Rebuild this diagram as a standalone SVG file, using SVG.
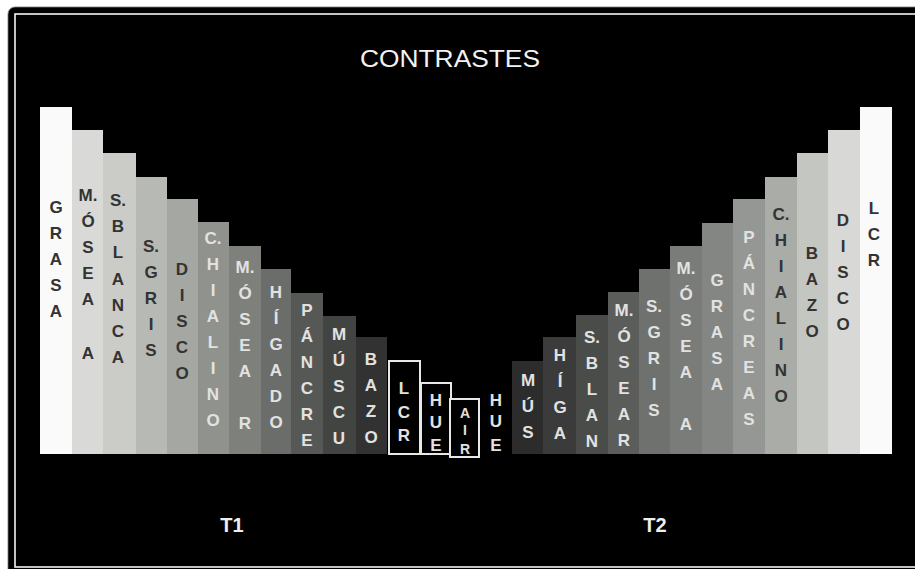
<svg xmlns="http://www.w3.org/2000/svg" width="915" height="569" viewBox="0 0 915 569">
<style>
.t{font-family:"Liberation Sans",Arial,sans-serif;font-size:17px;font-weight:bold;text-anchor:middle}
.d{fill:#333}
.l{fill:#e2e2e2}
.box{fill:#000;stroke:#e8e8e8;stroke-width:2}
.title{font-family:"Liberation Sans",Arial,sans-serif;font-size:24px;fill:#f2f2f2;text-anchor:middle}
.tl{font-family:"Liberation Sans",Arial,sans-serif;font-size:20px;font-weight:bold;fill:#eeeeee;text-anchor:middle}
</style>
<rect width="915" height="569" fill="#fff"/>
<rect x="8" y="7" width="930" height="580" rx="7" fill="#000" stroke="#777" stroke-width="0.8"/>
<rect x="15" y="14" width="920" height="553" fill="none" stroke="#f4f4f4" stroke-width="1.6"/>
<text class="title" x="450" y="67" textLength="180" lengthAdjust="spacingAndGlyphs">CONTRASTES</text>

<g id="L1"><rect x="40" y="107" width="32" height="347" fill="#fafafa"/>
<text class="t d"><tspan x="56" y="213">G</tspan><tspan x="56" y="239">R</tspan><tspan x="56" y="265">A</tspan><tspan x="56" y="291">S</tspan><tspan x="56" y="317">A</tspan></text></g>
<g id="L2"><rect x="72" y="130" width="31" height="324" fill="#d9dad7"/>
<text class="t d"><tspan x="88" y="201">M.</tspan><tspan x="88" y="227">Ó</tspan><tspan x="88" y="253">S</tspan><tspan x="88" y="279">E</tspan><tspan x="88" y="305">A</tspan><tspan x="88" y="359">A</tspan></text></g>
<g id="L3"><rect x="103" y="153" width="33" height="301" fill="#cbccc8"/>
<text class="t d"><tspan x="118" y="206">S.</tspan><tspan x="118" y="232">B</tspan><tspan x="118" y="258">L</tspan><tspan x="118" y="285">A</tspan><tspan x="118" y="311">N</tspan><tspan x="118" y="337">C</tspan><tspan x="118" y="363">A</tspan></text></g>
<g id="L4"><rect x="136" y="177" width="31" height="277" fill="#b7b9b4"/>
<text class="t d"><tspan x="151" y="252">S.</tspan><tspan x="151" y="278">G</tspan><tspan x="151" y="304">R</tspan><tspan x="151" y="330">I</tspan><tspan x="151" y="356">S</tspan></text></g>
<g id="L5"><rect x="167" y="199" width="31" height="255" fill="#a5a8a2"/>
<text class="t d"><tspan x="182" y="275">D</tspan><tspan x="182" y="301">I</tspan><tspan x="182" y="327">S</tspan><tspan x="182" y="353">C</tspan><tspan x="182" y="379">O</tspan></text></g>
<g id="L6"><rect x="198" y="222" width="31" height="232" fill="#8f928d"/>
<text class="t l"><tspan x="213" y="244">C.</tspan><tspan x="213" y="270">H</tspan><tspan x="213" y="296">I</tspan><tspan x="213" y="322">A</tspan><tspan x="213" y="348">L</tspan><tspan x="213" y="374">I</tspan><tspan x="213" y="400">N</tspan><tspan x="213" y="426">O</tspan></text></g>
<g id="L7"><rect x="229" y="246" width="32" height="208" fill="#7e807c"/>
<text class="t l"><tspan x="245" y="273">M.</tspan><tspan x="245" y="299">Ó</tspan><tspan x="245" y="325">S</tspan><tspan x="245" y="351">E</tspan><tspan x="245" y="377">A</tspan><tspan x="245" y="429">R</tspan></text></g>
<g id="L8"><rect x="261" y="269" width="30" height="185" fill="#6b6d6a"/>
<text class="t l"><tspan x="276" y="298">H</tspan><tspan x="276" y="324">Í</tspan><tspan x="276" y="350">G</tspan><tspan x="276" y="376">A</tspan><tspan x="276" y="402">D</tspan><tspan x="276" y="428">O</tspan></text></g>
<g id="L9"><rect x="291" y="293" width="32" height="161" fill="#565856"/>
<text class="t l"><tspan x="307" y="316">P</tspan><tspan x="307" y="342">Á</tspan><tspan x="307" y="368">N</tspan><tspan x="307" y="394">C</tspan><tspan x="307" y="420">R</tspan><tspan x="307" y="446">E</tspan></text></g>
<g id="L10"><rect x="323" y="316" width="33" height="138" fill="#424442"/>
<text class="t l"><tspan x="339" y="340">M</tspan><tspan x="339" y="366">Ú</tspan><tspan x="339" y="392">S</tspan><tspan x="339" y="418">C</tspan><tspan x="339" y="444">U</tspan></text></g>
<g id="L11"><rect x="356" y="337" width="31" height="117" fill="#313231"/>
<text class="t l"><tspan x="371" y="365">B</tspan><tspan x="371" y="391">A</tspan><tspan x="371" y="417">Z</tspan><tspan x="371" y="443">O</tspan></text></g>
<g id="B1"><rect class="box" x="389" y="361" width="31" height="93"/>
<text class="t l"><tspan x="404" y="394">L</tspan><tspan x="404" y="418">C</tspan><tspan x="404" y="441">R</tspan></text></g>
<g id="B2"><rect class="box" x="421" y="383" width="30" height="71"/>
<text class="t l"><tspan x="436" y="406">H</tspan><tspan x="436" y="428">U</tspan><tspan x="436" y="451">E</tspan></text></g>
<g id="B3"><rect class="box" x="450" y="399" width="29" height="58"/>
<text class="t l" style="font-size:14px"><tspan x="465" y="418">A</tspan><tspan x="465" y="435">I</tspan><tspan x="465" y="454">R</tspan></text></g>
<g id="H"><text class="t l"><tspan x="496" y="406">H</tspan><tspan x="496" y="427">U</tspan><tspan x="496" y="451">E</tspan></text></g>

<g id="R1"><rect x="512" y="361" width="31" height="93" fill="#2b2c2b"/>
<text class="t l"><tspan x="528" y="386">M</tspan><tspan x="528" y="412">Ú</tspan><tspan x="528" y="438">S</tspan></text></g>
<g id="R2"><rect x="543" y="337" width="33" height="117" fill="#3a3b3a"/>
<text class="t l"><tspan x="560" y="361">H</tspan><tspan x="560" y="387">Í</tspan><tspan x="560" y="413">G</tspan><tspan x="560" y="439">A</tspan></text></g>
<g id="R3"><rect x="576" y="315" width="32" height="139" fill="#4a4c4a"/>
<text class="t l"><tspan x="592" y="343">S.</tspan><tspan x="592" y="369">B</tspan><tspan x="592" y="395">L</tspan><tspan x="592" y="421">A</tspan><tspan x="592" y="447">N</tspan></text></g>
<g id="R4"><rect x="608" y="292" width="31" height="162" fill="#5b5d5b"/>
<text class="t l"><tspan x="624" y="316">M.</tspan><tspan x="624" y="342">Ó</tspan><tspan x="624" y="368">S</tspan><tspan x="624" y="394">E</tspan><tspan x="624" y="420">A</tspan><tspan x="624" y="446">R</tspan></text></g>
<g id="R5"><rect x="639" y="269" width="31" height="185" fill="#6e716e"/>
<text class="t l"><tspan x="654" y="312">S.</tspan><tspan x="654" y="338">G</tspan><tspan x="654" y="364">R</tspan><tspan x="654" y="390">I</tspan><tspan x="654" y="416">S</tspan></text></g>
<g id="R6"><rect x="670" y="246" width="32" height="208" fill="#797c78"/>
<text class="t l"><tspan x="686" y="274">M.</tspan><tspan x="686" y="300">Ó</tspan><tspan x="686" y="326">S</tspan><tspan x="686" y="352">E</tspan><tspan x="686" y="378">A</tspan><tspan x="686" y="430">A</tspan></text></g>
<g id="R7"><rect x="702" y="223" width="31" height="231" fill="#838682"/>
<text class="t l"><tspan x="717" y="286">G</tspan><tspan x="717" y="312">R</tspan><tspan x="717" y="338">A</tspan><tspan x="717" y="364">S</tspan><tspan x="717" y="390">A</tspan></text></g>
<g id="R8"><rect x="733" y="199" width="32" height="255" fill="#949793"/>
<text class="t l"><tspan x="749" y="243">P</tspan><tspan x="749" y="269">Á</tspan><tspan x="749" y="295">N</tspan><tspan x="749" y="321">C</tspan><tspan x="749" y="347">R</tspan><tspan x="749" y="373">E</tspan><tspan x="749" y="399">A</tspan><tspan x="749" y="425">S</tspan></text></g>
<g id="R9"><rect x="765" y="177" width="32" height="277" fill="#a9aca7"/>
<text class="t d"><tspan x="781" y="220">C.</tspan><tspan x="781" y="246">H</tspan><tspan x="781" y="272">I</tspan><tspan x="781" y="298">A</tspan><tspan x="781" y="324">L</tspan><tspan x="781" y="350">I</tspan><tspan x="781" y="376">N</tspan><tspan x="781" y="402">O</tspan></text></g>
<g id="R10"><rect x="797" y="153" width="31" height="301" fill="#c4c6c2"/>
<text class="t d"><tspan x="812" y="259">B</tspan><tspan x="812" y="285">A</tspan><tspan x="812" y="311">Z</tspan><tspan x="812" y="337">O</tspan></text></g>
<g id="R11"><rect x="828" y="130" width="32" height="324" fill="#d8d9d6"/>
<text class="t d"><tspan x="843" y="226">D</tspan><tspan x="843" y="252">I</tspan><tspan x="843" y="278">S</tspan><tspan x="843" y="304">C</tspan><tspan x="843" y="330">O</tspan></text></g>
<g id="R12"><rect x="860" y="107" width="32" height="347" fill="#fafafa"/>
<text class="t d"><tspan x="874" y="214">L</tspan><tspan x="874" y="240">C</tspan><tspan x="874" y="266">R</tspan></text></g>

<text class="tl" x="232" y="532">T1</text>
<text class="tl" x="655" y="532">T2</text>
</svg>
